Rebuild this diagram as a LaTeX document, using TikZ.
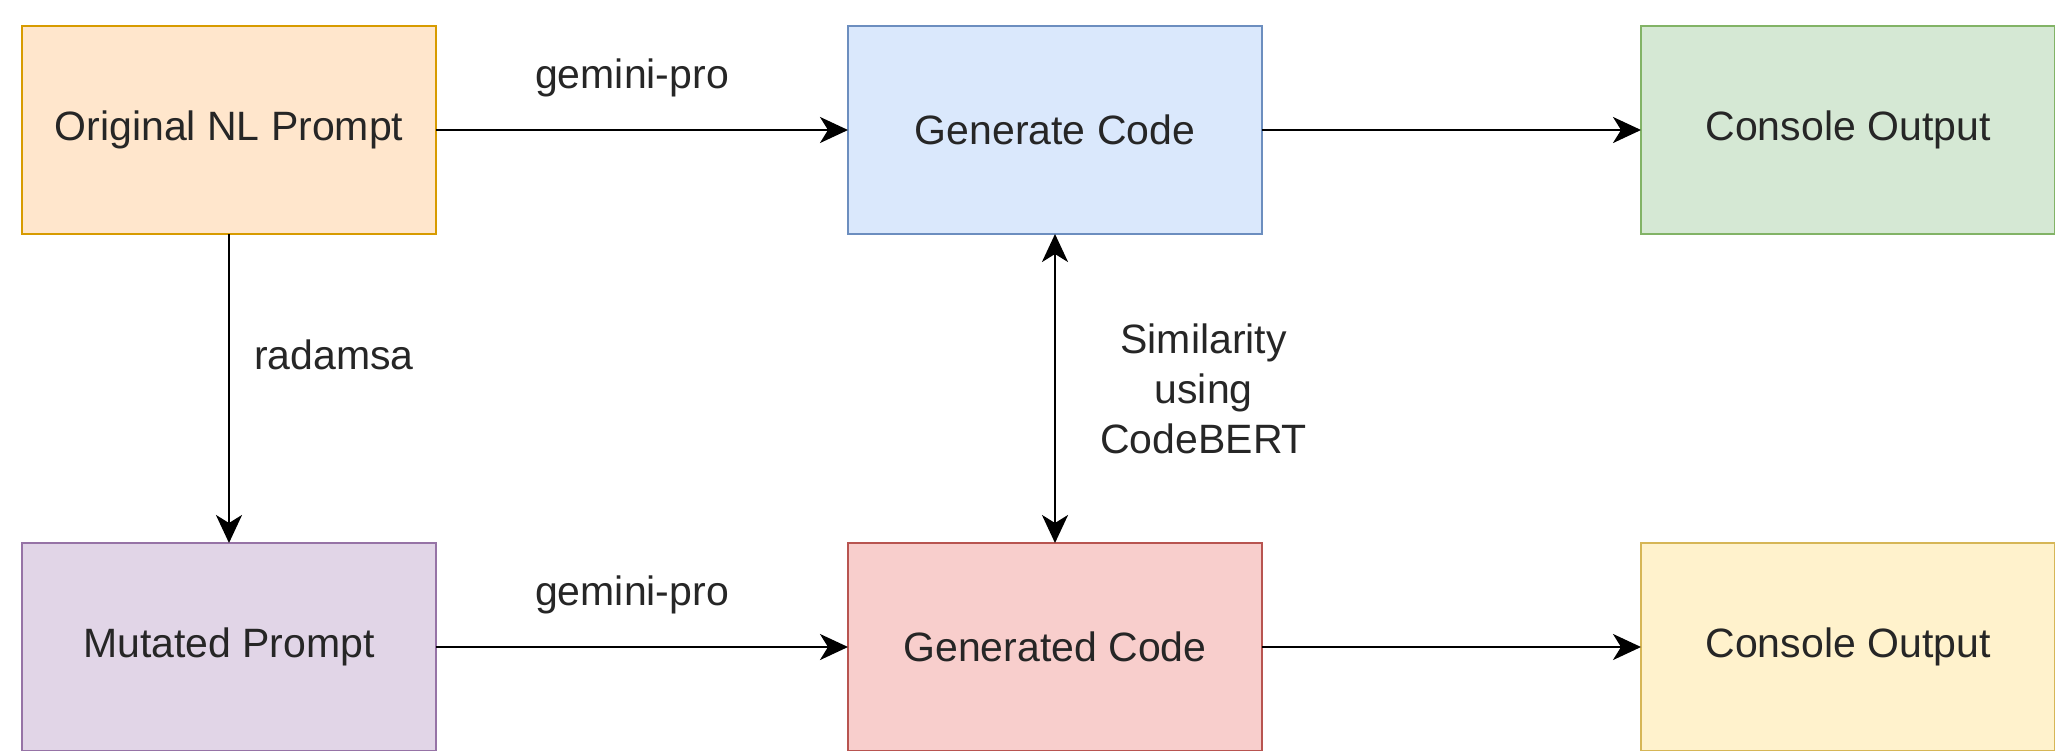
\documentclass[tikz,border=0pt]{standalone}
\usepackage{fontspec}
\setmainfont{Liberation Sans}
\definecolor{OrigFill}{HTML}{FFE6CC}
\definecolor{OrigLine}{HTML}{D79B00}
\definecolor{GenFill}{HTML}{DAE8FC}
\definecolor{GenLine}{HTML}{6C8EBF}
\definecolor{OutFill}{HTML}{D5E8D4}
\definecolor{OutLine}{HTML}{82B366}
\definecolor{MutFill}{HTML}{E1D5E7}
\definecolor{MutLine}{HTML}{9673A6}
\definecolor{CodeFill}{HTML}{F8CECC}
\definecolor{CodeLine}{HTML}{B85450}
\definecolor{ConsFill}{HTML}{FFF2CC}
\definecolor{ConsLine}{HTML}{D6B656}
\usetikzlibrary{positioning,arrows.meta}

\begin{document}
\begin{tikzpicture}[font=\fontsize{20.5pt}{25pt}\selectfont, text=black!85,
    >={Stealth[length=14pt, width=13pt, inset=4pt]},
    box/.style={draw, line width=1pt, minimum width=207pt, minimum height=104pt, inner sep=0pt, outer sep=0pt},
    flow/.style={->, line width=1.3pt},
    lbl/.style={inner sep=0pt}]
      \useasboundingbox (0,0) rectangle (1027.5pt,-375pt);
      \node[box, draw=OrigLine, fill=OrigFill] (orig) at (114.5pt,-65pt) {Original NL Prompt};
      \node[box, draw=GenLine, fill=GenFill, right=206pt of orig] (gen) {Generate Code};
      \node[box, draw=OutLine, fill=OutFill, right=189.5pt of gen] (out1) {Console Output};
      \node[box, draw=MutLine, fill=MutFill, below=154.5pt of orig] (mut) {Mutated Prompt};
      \node[box, draw=CodeLine, fill=CodeFill, below=154.5pt of gen] (gend) {Generated Code};
      \node[box, draw=ConsLine, fill=ConsFill, below=154.5pt of out1] (out2) {Console Output};
      \draw[flow] (orig) -- node[lbl, above=16pt, xshift=-5pt] (gp1) {gemini-pro} (gen);
      \draw[flow] (mut) -- node[lbl, above=16pt, xshift=-5pt] (gp2) {gemini-pro} (gend);
      \draw[flow] (gen) -- (out1);
      \draw[flow] (gend) -- (out2);
      \draw[flow] (orig) -- node[lbl, right=12pt, pos=0.39] (rad) {radamsa} (mut);
      \draw[flow, <->] (gen) -- node[lbl, right=22pt, align=center] (sim) {Similarity\\using\\CodeBERT} (gend);
    \end{tikzpicture}
\end{document}
